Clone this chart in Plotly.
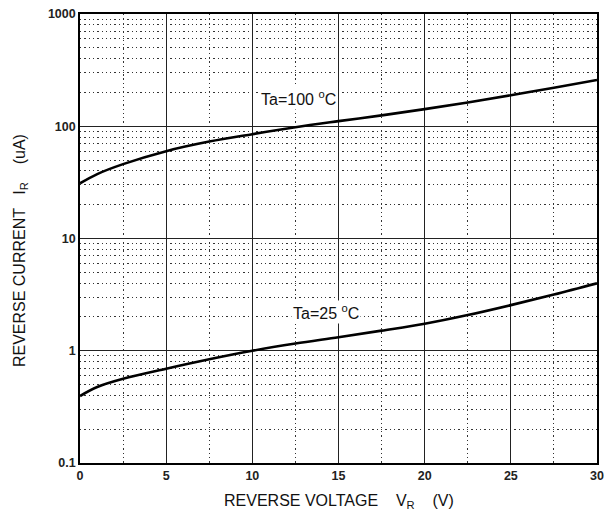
import math
import plotly.graph_objects as go

voltage = [0, 1, 2.5, 5, 7.5, 10, 12.5, 15, 17.5, 20, 22.5, 25, 27.5, 30]
current_100c = [31, 37.5, 46, 60, 73, 85, 98, 111, 125, 142, 163, 189, 220, 258]
current_25c = [0.395, 0.475, 0.562, 0.692, 0.84, 1.0, 1.16, 1.32, 1.51, 1.74, 2.08, 2.55, 3.17, 3.99]

x_ticks = [0, 5, 10, 15, 20, 25, 30]
y_ticks = [0.1, 1, 10, 100, 1000]
y_tick_labels = ["0.1", "1", "10", "100", "1000"]

label_100 = {"x": 12.7, "y": 179, "text": "Ta=100 <sup>o</sup>C"}
label_25 = {"x": 14.3, "y": 2.23, "text": "Ta=25 <sup>o</sup>C"}

FONT = "Liberation Sans, Arial, sans-serif"
sp = "\u00a0"

fig = go.Figure()
for ys in (current_100c, current_25c):
    fig.add_trace(go.Scatter(x=voltage, y=ys, mode="lines",
                             line=dict(color="black", width=2.6, shape="spline", smoothing=1.0),
                             showlegend=False, hoverinfo="skip"))

for lab in (label_100, label_25):
    fig.add_annotation(x=lab["x"], y=math.log10(lab["y"]), text=lab["text"], showarrow=False,
                       xref="x", yref="y",
                       font=dict(family=FONT, size=16, color="#111"),
                       bgcolor="white", borderpad=1)

fig.add_annotation(x=-0.116, y=0.472, xref="paper", yref="paper", textangle=-90,
                   text=f"REVERSE CURRENT{sp*3}I<sub>R</sub>{sp*4}(uA)", showarrow=False,
                   xanchor="center", yanchor="middle",
                   font=dict(family=FONT, size=16, color="#111"))
fig.add_annotation(x=0.5, y=-0.085, xref="paper", yref="paper",
                   text=f"REVERSE VOLTAGE{sp*4}V<sub>R</sub>{sp*4}(V)", showarrow=False,
                   xanchor="center", yanchor="middle",
                   font=dict(family=FONT, size=16, color="#111"))

fig.update_layout(
    width=604, height=511,
    margin=dict(l=72, r=15, t=6, b=56),
    paper_bgcolor="white", plot_bgcolor="white",
    xaxis=dict(range=[0, 30], tickvals=x_ticks, ticks="", showgrid=True, automargin=False,
               ticklabeloverflow="allow",
               gridcolor="#222", gridwidth=1.3, zeroline=False,
               showline=True, mirror=True, linecolor="black", linewidth=1.6,
               tickfont=dict(family=FONT, size=12.5, color="#222", weight="bold"),
               minor=dict(dtick=2.5, showgrid=True, gridcolor="#333", gridwidth=1.3,
                          griddash="1.3px,3px", ticks="")),
    yaxis=dict(type="log", range=[-1, 3], tickvals=y_ticks, ticktext=y_tick_labels,
               ticks="", showgrid=True, automargin=False, ticklabeloverflow="allow",
               gridcolor="#222", gridwidth=1.3, zeroline=False,
               showline=True, mirror=True, linecolor="black", linewidth=1.6,
               tickfont=dict(family=FONT, size=12.5, color="#222", weight="bold"),
               minor=dict(dtick="D1", showgrid=True, gridcolor="#333", gridwidth=1.3,
                          griddash="1.3px,3px", ticks="")),
)

fig.write_html("out.html")
